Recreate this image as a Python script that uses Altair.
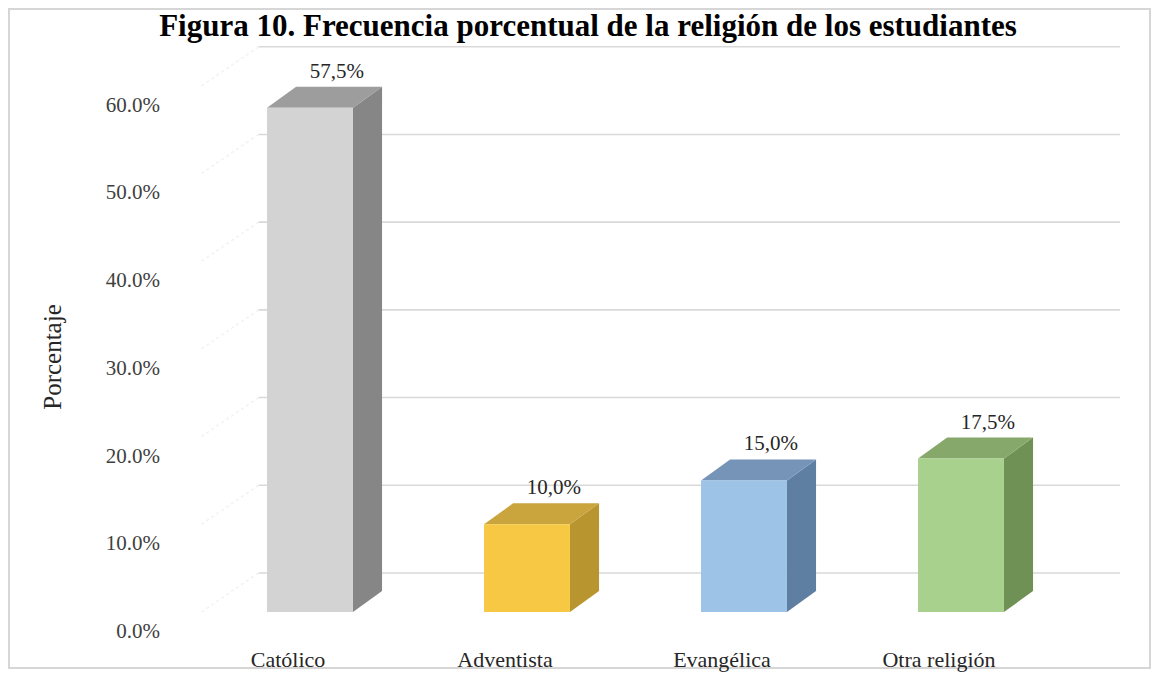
import altair as alt
import pandas as pd

# ---- data ----
categories = ["Católico", "Adventista", "Evangélica", "Otra religión"]
values = [57.5, 10.0, 15.0, 17.5]
tick_values = [0, 10, 20, 30, 40, 50, 60]
front_colors = ["#d3d3d3", "#f6c843", "#9dc3e6", "#a9d18e"]
side_colors = ["#868686", "#b8952f", "#5f7fa2", "#6f9155"]
top_colors = ["#9d9d9d", "#caa43c", "#7594b8", "#86a96b"]
title_text = "Figura 10. Frecuencia porcentual de la religión de los estudiantes"
y_title = "Porcentaje"

# ---- geometry of the pseudo-3D plot (scale units) ----
W, H = 1143, 670
BAR_W = 0.396          # bar width in category units
BAR_DX, BAR_DY = 0.134, 2.39    # bar depth (x units, % units)
WALL_DX, WALL_DY = 0.263, 4.45  # back-wall depth
FRONT_LEFT, FRONT_RIGHT = -0.5, 3.47

xs = alt.Scale(domain=[-1.3917, 3.8756], nice=False, zero=False)
ys = alt.Scale(domain=[-7.526, 68.87], nice=False, zero=False)

idx = list(range(len(categories)))

front = pd.DataFrame({
    "cat": categories,
    "xl": [i - BAR_W / 2 for i in idx],
    "xr": [i + BAR_W / 2 for i in idx],
    "y0": [0.0] * len(idx),
    "y1": values,
    "col": front_colors,
})

side_rows = []
top_rows = []
for i, c, v, sc, tc in zip(idx, categories, values, side_colors, top_colors):
    xl, xr = i - BAR_W / 2, i + BAR_W / 2
    side_rows.append({"cat": c, "x": xr, "lo": 0.0, "hi": v, "col": sc})
    side_rows.append({"cat": c, "x": xr + BAR_DX, "lo": BAR_DY, "hi": v + BAR_DY, "col": sc})
    top_rows.append({"cat": c, "y": v, "xa": xl, "xb": xr, "col": tc})
    top_rows.append({"cat": c, "y": v + BAR_DY, "xa": xl + BAR_DX, "xb": xr + BAR_DX, "col": tc})
side = pd.DataFrame(side_rows)
top = pd.DataFrame(top_rows)

labels = pd.DataFrame({
    "i": idx,
    "cat": categories,
    "ly": [v + BAR_DY for v in values],
    "txt": [f"{v:.1f}".replace(".", ",") + "%" for v in values],
})

grid = pd.DataFrame({
    "t": tick_values,
    "gy": [t + WALL_DY for t in tick_values],
    "gx1": [FRONT_LEFT + WALL_DX] * len(tick_values),
    "gx2": [FRONT_RIGHT + WALL_DX] * len(tick_values),
    "lbl": [f"{t:.1f}%" for t in tick_values],
})

wall_rows = []
for t in tick_values:
    wall_rows.append({"t": t, "x": FRONT_LEFT, "y": t})
    wall_rows.append({"t": t, "x": FRONT_LEFT + WALL_DX, "y": t + WALL_DY})
wall = pd.DataFrame(wall_rows)

SERIF = "Liberation Serif"

frame = alt.Chart(pd.DataFrame({"a": [0]})).mark_rect(
    fillOpacity=0, stroke="#d6d6d6", strokeWidth=2
).encode(x=alt.value(1), x2=alt.value(W - 1), y=alt.value(1), y2=alt.value(660))

wall_lines = alt.Chart(wall).mark_line(
    color="#f2f2f2", strokeWidth=1.5, strokeDash=[3, 3]
).encode(
    x=alt.X("x:Q", scale=xs, axis=None),
    y=alt.Y("y:Q", scale=ys, axis=None),
    detail="t:N",
)

gridlines = alt.Chart(grid).mark_rule(color="#d9d9d9", strokeWidth=1.6).encode(
    x=alt.X("gx1:Q", scale=xs, axis=None),
    x2="gx2:Q",
    y=alt.Y("gy:Q", scale=ys, axis=None),
)

side_faces = alt.Chart(side).mark_area(opacity=1).encode(
    x=alt.X("x:Q", scale=xs, axis=None),
    y=alt.Y("lo:Q", scale=ys, axis=None, stack=None),
    y2="hi:Q",
    color=alt.Color("col:N", scale=None),
    detail="cat:N",
)

top_faces = alt.Chart(top).mark_area(orient="horizontal", opacity=1).encode(
    y=alt.Y("y:Q", scale=ys, axis=None),
    x=alt.X("xa:Q", scale=xs, axis=None, stack=None),
    x2="xb:Q",
    color=alt.Color("col:N", scale=None),
    detail="cat:N",
)

front_faces = alt.Chart(front).mark_bar(opacity=1).encode(
    x=alt.X("xl:Q", scale=xs, axis=None),
    x2="xr:Q",
    y=alt.Y("y0:Q", scale=ys, axis=None),
    y2="y1:Q",
    color=alt.Color("col:N", scale=None),
)

value_labels = alt.Chart(labels).mark_text(
    font=SERIF, fontSize=21, color="#262626", baseline="middle", align="center"
).encode(
    x=alt.X("i:Q", scale=xs, axis=None),
    y=alt.Y("ly:Q", scale=ys, axis=None),
    xOffset=alt.value(27),
    yOffset=alt.value(-15),
    text="txt:N",
)

cat_labels = alt.Chart(labels).mark_text(
    font=SERIF, fontSize=22, color="#262626", baseline="middle", align="center"
).encode(
    x=alt.X("i:Q", scale=xs, axis=None),
    xOffset=alt.value(-22),
    y=alt.value(652),
    text="cat:N",
)

tick_labels = alt.Chart(grid).mark_text(
    font=SERIF, fontSize=21, color="#404040", baseline="middle", align="right"
).encode(
    x=alt.value(152),
    y=alt.Y("t:Q", scale=ys, axis=None),
    yOffset=alt.value(20),
    text="lbl:N",
)

axis_title = alt.Chart(pd.DataFrame({"t": [y_title]})).mark_text(
    font=SERIF, fontSize=25, color="#262626", angle=270, baseline="middle", align="center"
).encode(x=alt.value(45), y=alt.value(349), text="t:N")

title = alt.Chart(pd.DataFrame({"t": [title_text]})).mark_text(
    font=SERIF, fontSize=31, fontWeight="bold", color="#000000",
    baseline="alphabetic", align="center"
).encode(x=alt.value(580), y=alt.value(28), text="t:N")

chart = alt.layer(
    frame, wall_lines, gridlines, side_faces, top_faces, front_faces,
    value_labels, cat_labels, tick_labels, axis_title, title
).properties(
    width=W, height=H, padding=0, autosize=alt.AutoSizeParams(type="none"),
    background="#ffffff",
).configure_view(stroke=None)

chart.save("out.html", embed_options={"renderer": "svg", "actions": False})
